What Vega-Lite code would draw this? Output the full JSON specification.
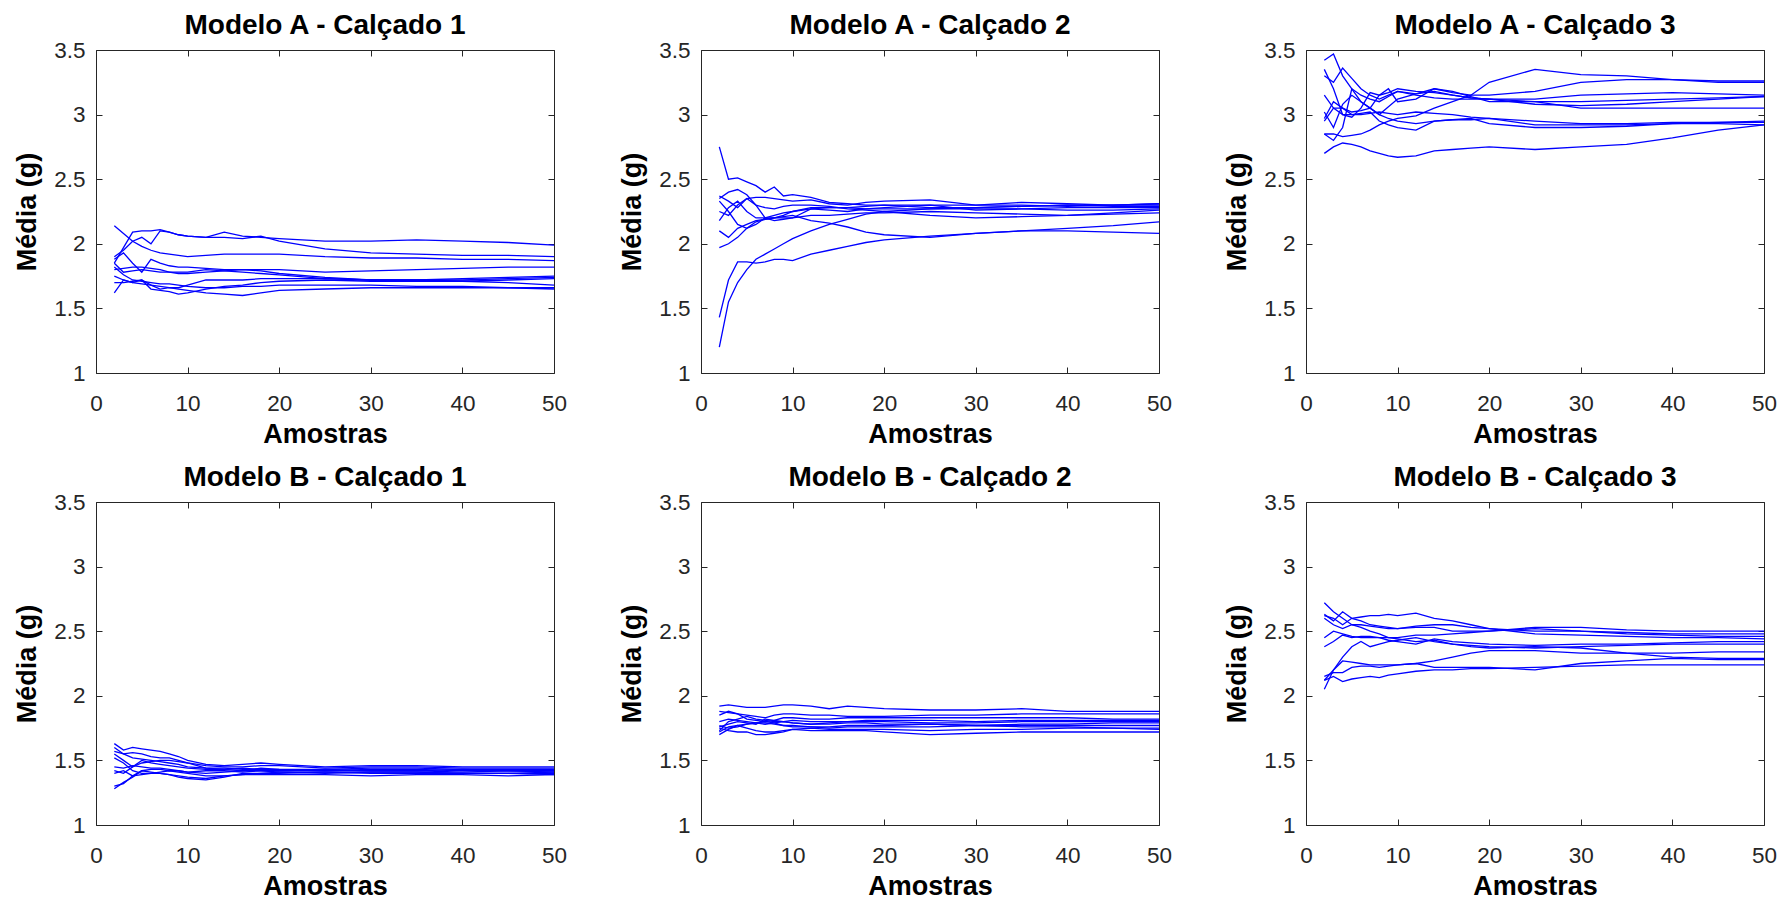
{
"$schema": "https://vega.github.io/schema/vega-lite/v6.json",
"background": "white",
"autosize": {"type": "none"},
"padding": {"left": 96, "top": 50, "right": 1686, "bottom": 854},
"data": {"values": [
{"p":"A1","x":2,"a":1.85,"b":1.9,"c":2.14,"d":1.88,"e":1.8,"f":1.85,"g":1.62,"h":1.7,"i":1.75,"j":1.82},
{"p":"A1","x":3,"a":1.97,"b":1.95,"c":2.08,"d":1.93,"e":1.81,"f":1.78,"g":1.72,"h":1.7,"i":1.72,"j":1.76},
{"p":"A1","x":4,"a":2.09,"b":2.02,"c":2.02,"d":1.85,"e":1.82,"f":1.79,"g":1.7,"h":1.71,"i":1.7,"j":1.72},
{"p":"A1","x":5,"a":2.1,"b":2.05,"c":1.98,"d":1.78,"e":1.82,"f":1.8,"g":1.72,"h":1.72,"i":1.69,"j":1.71},
{"p":"A1","x":6,"a":2.1,"b":2.0,"c":1.95,"d":1.88,"e":1.81,"f":1.79,"g":1.68,"h":1.65,"i":1.68,"j":1.7},
{"p":"A1","x":7,"a":2.11,"b":2.1,"c":1.93,"d":1.85,"e":1.8,"f":1.78,"g":1.65,"h":1.64,"i":1.67,"j":1.69},
{"p":"A1","x":8,"a":2.09,"b":2.09,"c":1.92,"d":1.83,"e":1.78,"f":1.78,"g":1.66,"h":1.63,"i":1.66,"j":1.69},
{"p":"A1","x":9,"a":2.07,"b":2.07,"c":1.91,"d":1.82,"e":1.78,"f":1.77,"g":1.66,"h":1.61,"i":1.65,"j":1.68},
{"p":"A1","x":10,"a":2.06,"b":2.06,"c":1.9,"d":1.82,"e":1.78,"f":1.77,"g":1.68,"h":1.62,"i":1.64,"j":1.67},
{"p":"A1","x":12,"a":2.05,"b":2.05,"c":1.91,"d":1.81,"e":1.8,"f":1.78,"g":1.72,"h":1.65,"i":1.62,"j":1.66},
{"p":"A1","x":14,"a":2.09,"b":2.05,"c":1.92,"d":1.8,"e":1.79,"f":1.79,"g":1.72,"h":1.67,"i":1.61,"j":1.66},
{"p":"A1","x":16,"a":2.06,"b":2.04,"c":1.92,"d":1.8,"e":1.78,"f":1.8,"g":1.72,"h":1.68,"i":1.6,"j":1.67},
{"p":"A1","x":18,"a":2.05,"b":2.06,"c":1.92,"d":1.8,"e":1.77,"f":1.79,"g":1.73,"h":1.7,"i":1.62,"j":1.67},
{"p":"A1","x":20,"a":2.04,"b":2.02,"c":1.92,"d":1.8,"e":1.76,"f":1.77,"g":1.73,"h":1.71,"i":1.64,"j":1.68},
{"p":"A1","x":25,"a":2.02,"b":1.96,"c":1.9,"d":1.78,"e":1.73,"f":1.74,"g":1.73,"h":1.72,"i":1.65,"j":1.68},
{"p":"A1","x":30,"a":2.02,"b":1.93,"c":1.89,"d":1.79,"e":1.72,"f":1.72,"g":1.72,"h":1.71,"i":1.66,"j":1.68},
{"p":"A1","x":35,"a":2.03,"b":1.92,"c":1.89,"d":1.8,"e":1.72,"f":1.72,"g":1.72,"h":1.71,"i":1.66,"j":1.67},
{"p":"A1","x":40,"a":2.02,"b":1.91,"c":1.88,"d":1.81,"e":1.73,"f":1.72,"g":1.71,"h":1.71,"i":1.66,"j":1.67},
{"p":"A1","x":45,"a":2.01,"b":1.91,"c":1.88,"d":1.82,"e":1.74,"f":1.73,"g":1.72,"h":1.7,"i":1.66,"j":1.66},
{"p":"A1","x":50,"a":1.99,"b":1.9,"c":1.87,"d":1.82,"e":1.75,"f":1.74,"g":1.73,"h":1.68,"i":1.66,"j":1.65},
{"p":"A2","x":2,"a":2.75,"b":2.37,"c":2.35,"d":2.33,"e":2.25,"f":2.1,"g":1.97,"h":1.43,"i":1.2,"j":2.18},
{"p":"A2","x":3,"a":2.5,"b":2.33,"c":2.4,"d":2.25,"e":2.22,"f":2.05,"g":2.0,"h":1.72,"i":1.55,"j":2.28},
{"p":"A2","x":4,"a":2.51,"b":2.28,"c":2.42,"d":2.15,"e":2.3,"f":2.12,"g":2.05,"h":1.86,"i":1.7,"j":2.33},
{"p":"A2","x":5,"a":2.48,"b":2.35,"c":2.38,"d":2.12,"e":2.35,"f":2.15,"g":2.12,"h":1.86,"i":1.8,"j":2.25},
{"p":"A2","x":6,"a":2.45,"b":2.36,"c":2.3,"d":2.15,"e":2.3,"f":2.18,"g":2.17,"h":1.85,"i":1.88,"j":2.2},
{"p":"A2","x":7,"a":2.4,"b":2.36,"c":2.2,"d":2.2,"e":2.28,"f":2.19,"g":2.19,"h":1.86,"i":1.92,"j":2.2},
{"p":"A2","x":8,"a":2.44,"b":2.35,"c":2.18,"d":2.22,"e":2.27,"f":2.2,"g":2.2,"h":1.88,"i":1.96,"j":2.2},
{"p":"A2","x":9,"a":2.37,"b":2.34,"c":2.19,"d":2.24,"e":2.29,"f":2.2,"g":2.21,"h":1.88,"i":2.0,"j":2.22},
{"p":"A2","x":10,"a":2.38,"b":2.33,"c":2.2,"d":2.25,"e":2.3,"f":2.2,"g":2.22,"h":1.87,"i":2.04,"j":2.25},
{"p":"A2","x":12,"a":2.36,"b":2.34,"c":2.27,"d":2.28,"e":2.3,"f":2.22,"g":2.18,"h":1.92,"i":2.1,"j":2.27},
{"p":"A2","x":14,"a":2.32,"b":2.31,"c":2.28,"d":2.28,"e":2.29,"f":2.22,"g":2.16,"h":1.95,"i":2.15,"j":2.26},
{"p":"A2","x":16,"a":2.31,"b":2.3,"c":2.28,"d":2.28,"e":2.27,"f":2.23,"g":2.13,"h":1.98,"i":2.19,"j":2.25},
{"p":"A2","x":18,"a":2.3,"b":2.32,"c":2.27,"d":2.29,"e":2.26,"f":2.24,"g":2.09,"h":2.01,"i":2.23,"j":2.27},
{"p":"A2","x":20,"a":2.3,"b":2.33,"c":2.27,"d":2.3,"e":2.25,"f":2.24,"g":2.07,"h":2.03,"i":2.25,"j":2.28},
{"p":"A2","x":25,"a":2.3,"b":2.34,"c":2.27,"d":2.28,"e":2.22,"f":2.25,"g":2.05,"h":2.06,"i":2.27,"j":2.3},
{"p":"A2","x":30,"a":2.3,"b":2.3,"c":2.27,"d":2.28,"e":2.2,"f":2.24,"g":2.08,"h":2.08,"i":2.28,"j":2.26},
{"p":"A2","x":35,"a":2.3,"b":2.32,"c":2.27,"d":2.29,"e":2.21,"f":2.23,"g":2.1,"h":2.1,"i":2.29,"j":2.27},
{"p":"A2","x":40,"a":2.29,"b":2.31,"c":2.26,"d":2.3,"e":2.22,"f":2.22,"g":2.1,"h":2.12,"i":2.3,"j":2.28},
{"p":"A2","x":45,"a":2.3,"b":2.3,"c":2.26,"d":2.29,"e":2.24,"f":2.23,"g":2.09,"h":2.14,"i":2.3,"j":2.28},
{"p":"A2","x":50,"a":2.31,"b":2.3,"c":2.27,"d":2.29,"e":2.26,"f":2.24,"g":2.08,"h":2.17,"i":2.31,"j":2.28},
{"p":"A3","x":2,"a":3.42,"b":3.3,"c":3.35,"d":3.15,"e":2.97,"f":2.85,"g":2.85,"h":2.7,"i":2.95,"j":3.02},
{"p":"A3","x":3,"a":3.47,"b":3.25,"c":3.2,"d":3.05,"e":3.1,"f":2.8,"g":2.85,"h":2.75,"i":3.05,"j":2.9},
{"p":"A3","x":4,"a":3.3,"b":3.36,"c":3.0,"d":3.0,"e":3.05,"f":2.9,"g":2.83,"h":2.78,"i":3.05,"j":3.08},
{"p":"A3","x":5,"a":3.2,"b":3.28,"c":2.98,"d":3.0,"e":3.0,"f":3.2,"g":2.84,"h":2.77,"i":3.02,"j":3.15},
{"p":"A3","x":6,"a":3.1,"b":3.2,"c":3.05,"d":3.0,"e":3.01,"f":3.15,"g":2.85,"h":2.75,"i":3.03,"j":3.1},
{"p":"A3","x":7,"a":3.05,"b":3.15,"c":3.17,"d":3.01,"e":3.02,"f":3.12,"g":2.88,"h":2.72,"i":3.05,"j":3.05},
{"p":"A3","x":8,"a":3.0,"b":3.12,"c":3.15,"d":3.02,"e":2.95,"f":3.1,"g":2.92,"h":2.7,"i":3.15,"j":3.0},
{"p":"A3","x":9,"a":2.97,"b":3.15,"c":3.17,"d":3.01,"e":2.92,"f":3.14,"g":2.95,"h":2.68,"i":3.2,"j":3.06},
{"p":"A3","x":10,"a":2.95,"b":3.18,"c":3.2,"d":3.0,"e":2.9,"f":3.18,"g":2.97,"h":2.67,"i":3.1,"j":3.12},
{"p":"A3","x":12,"a":2.93,"b":3.15,"c":3.18,"d":3.02,"e":2.88,"f":3.16,"g":2.99,"h":2.68,"i":3.12,"j":3.16},
{"p":"A3","x":14,"a":2.95,"b":3.13,"c":3.17,"d":3.01,"e":2.95,"f":3.2,"g":3.05,"h":2.72,"i":3.2,"j":3.18},
{"p":"A3","x":16,"a":2.96,"b":3.12,"c":3.15,"d":3.0,"e":2.96,"f":3.17,"g":3.1,"h":2.73,"i":3.18,"j":3.15},
{"p":"A3","x":18,"a":2.96,"b":3.12,"c":3.13,"d":2.98,"e":2.97,"f":3.15,"g":3.15,"h":2.74,"i":3.14,"j":3.13},
{"p":"A3","x":20,"a":2.97,"b":3.12,"c":3.12,"d":2.97,"e":2.93,"f":3.15,"g":3.25,"h":2.75,"i":3.1,"j":3.12},
{"p":"A3","x":25,"a":2.95,"b":3.08,"c":3.12,"d":2.92,"e":2.9,"f":3.18,"g":3.35,"h":2.73,"i":3.1,"j":3.1},
{"p":"A3","x":30,"a":2.93,"b":3.07,"c":3.15,"d":2.92,"e":2.9,"f":3.25,"g":3.31,"h":2.75,"i":3.05,"j":3.1},
{"p":"A3","x":35,"a":2.93,"b":3.08,"c":3.16,"d":2.92,"e":2.91,"f":3.27,"g":3.3,"h":2.77,"i":3.05,"j":3.11},
{"p":"A3","x":40,"a":2.94,"b":3.1,"c":3.17,"d":2.93,"e":2.93,"f":3.27,"g":3.27,"h":2.82,"i":3.05,"j":3.12},
{"p":"A3","x":45,"a":2.94,"b":3.12,"c":3.16,"d":2.93,"e":2.94,"f":3.26,"g":3.25,"h":2.88,"i":3.05,"j":3.13},
{"p":"A3","x":50,"a":2.95,"b":3.14,"c":3.15,"d":2.92,"e":2.94,"f":3.26,"g":3.25,"h":2.92,"i":3.05,"j":3.14},
{"p":"B1","x":2,"a":1.63,"b":1.57,"c":1.55,"d":1.42,"e":1.4,"f":1.3,"g":1.28,"h":1.52,"i":1.6,"j":1.45},
{"p":"B1","x":3,"a":1.58,"b":1.55,"c":1.5,"d":1.4,"e":1.42,"f":1.32,"g":1.33,"h":1.48,"i":1.55,"j":1.44},
{"p":"B1","x":4,"a":1.6,"b":1.56,"c":1.45,"d":1.45,"e":1.38,"f":1.38,"g":1.37,"h":1.42,"i":1.52,"j":1.46},
{"p":"B1","x":5,"a":1.59,"b":1.55,"c":1.48,"d":1.5,"e":1.42,"f":1.39,"g":1.42,"h":1.4,"i":1.51,"j":1.45},
{"p":"B1","x":6,"a":1.58,"b":1.53,"c":1.49,"d":1.48,"e":1.43,"f":1.4,"g":1.41,"h":1.4,"i":1.5,"j":1.44},
{"p":"B1","x":7,"a":1.57,"b":1.52,"c":1.5,"d":1.47,"e":1.43,"f":1.41,"g":1.4,"h":1.4,"i":1.49,"j":1.44},
{"p":"B1","x":8,"a":1.55,"b":1.52,"c":1.5,"d":1.46,"e":1.42,"f":1.42,"g":1.39,"h":1.39,"i":1.48,"j":1.43},
{"p":"B1","x":9,"a":1.53,"b":1.5,"c":1.49,"d":1.45,"e":1.42,"f":1.41,"g":1.38,"h":1.37,"i":1.47,"j":1.42},
{"p":"B1","x":10,"a":1.5,"b":1.48,"c":1.48,"d":1.44,"e":1.41,"f":1.4,"g":1.37,"h":1.36,"i":1.45,"j":1.41},
{"p":"B1","x":12,"a":1.47,"b":1.46,"c":1.44,"d":1.43,"e":1.4,"f":1.38,"g":1.36,"h":1.35,"i":1.44,"j":1.42},
{"p":"B1","x":14,"a":1.46,"b":1.45,"c":1.43,"d":1.43,"e":1.41,"f":1.38,"g":1.38,"h":1.37,"i":1.44,"j":1.42},
{"p":"B1","x":16,"a":1.47,"b":1.45,"c":1.42,"d":1.44,"e":1.42,"f":1.39,"g":1.39,"h":1.4,"i":1.43,"j":1.41},
{"p":"B1","x":18,"a":1.48,"b":1.46,"c":1.44,"d":1.43,"e":1.42,"f":1.4,"g":1.39,"h":1.4,"i":1.43,"j":1.42},
{"p":"B1","x":20,"a":1.47,"b":1.46,"c":1.43,"d":1.42,"e":1.41,"f":1.41,"g":1.39,"h":1.4,"i":1.43,"j":1.42},
{"p":"B1","x":25,"a":1.45,"b":1.44,"c":1.42,"d":1.43,"e":1.4,"f":1.41,"g":1.39,"h":1.41,"i":1.43,"j":1.42},
{"p":"B1","x":30,"a":1.46,"b":1.45,"c":1.43,"d":1.42,"e":1.41,"f":1.4,"g":1.38,"h":1.41,"i":1.44,"j":1.42},
{"p":"B1","x":35,"a":1.46,"b":1.45,"c":1.43,"d":1.42,"e":1.41,"f":1.4,"g":1.39,"h":1.41,"i":1.44,"j":1.42},
{"p":"B1","x":40,"a":1.45,"b":1.44,"c":1.42,"d":1.41,"e":1.4,"f":1.4,"g":1.39,"h":1.4,"i":1.43,"j":1.43},
{"p":"B1","x":45,"a":1.45,"b":1.44,"c":1.42,"d":1.42,"e":1.4,"f":1.4,"g":1.38,"h":1.4,"i":1.43,"j":1.42},
{"p":"B1","x":50,"a":1.45,"b":1.44,"c":1.42,"d":1.42,"e":1.41,"f":1.4,"g":1.39,"h":1.39,"i":1.43,"j":1.41},
{"p":"B2","x":2,"a":1.92,"b":1.88,"c":1.85,"d":1.8,"e":1.77,"f":1.72,"g":1.7,"h":1.75,"i":1.76,"j":1.73},
{"p":"B2","x":3,"a":1.93,"b":1.87,"c":1.88,"d":1.82,"e":1.75,"f":1.76,"g":1.74,"h":1.73,"i":1.78,"j":1.8},
{"p":"B2","x":4,"a":1.92,"b":1.86,"c":1.86,"d":1.81,"e":1.76,"f":1.77,"g":1.77,"h":1.72,"i":1.8,"j":1.82},
{"p":"B2","x":5,"a":1.91,"b":1.85,"c":1.82,"d":1.8,"e":1.78,"f":1.78,"g":1.75,"h":1.72,"i":1.79,"j":1.84},
{"p":"B2","x":6,"a":1.91,"b":1.84,"c":1.81,"d":1.79,"e":1.79,"f":1.79,"g":1.73,"h":1.7,"i":1.78,"j":1.82},
{"p":"B2","x":7,"a":1.91,"b":1.83,"c":1.8,"d":1.78,"e":1.8,"f":1.79,"g":1.72,"h":1.7,"i":1.82,"j":1.81},
{"p":"B2","x":8,"a":1.92,"b":1.85,"c":1.81,"d":1.79,"e":1.79,"f":1.78,"g":1.72,"h":1.71,"i":1.81,"j":1.8},
{"p":"B2","x":9,"a":1.93,"b":1.86,"c":1.83,"d":1.8,"e":1.77,"f":1.77,"g":1.73,"h":1.72,"i":1.8,"j":1.8},
{"p":"B2","x":10,"a":1.93,"b":1.86,"c":1.83,"d":1.79,"e":1.77,"f":1.76,"g":1.74,"h":1.74,"i":1.79,"j":1.81},
{"p":"B2","x":12,"a":1.92,"b":1.85,"c":1.82,"d":1.78,"e":1.76,"f":1.76,"g":1.75,"h":1.73,"i":1.78,"j":1.8},
{"p":"B2","x":14,"a":1.9,"b":1.85,"c":1.82,"d":1.79,"e":1.76,"f":1.75,"g":1.74,"h":1.73,"i":1.78,"j":1.8},
{"p":"B2","x":16,"a":1.92,"b":1.84,"c":1.83,"d":1.8,"e":1.77,"f":1.76,"g":1.74,"h":1.73,"i":1.79,"j":1.8},
{"p":"B2","x":18,"a":1.91,"b":1.84,"c":1.83,"d":1.8,"e":1.77,"f":1.76,"g":1.74,"h":1.73,"i":1.79,"j":1.81},
{"p":"B2","x":20,"a":1.9,"b":1.84,"c":1.83,"d":1.8,"e":1.77,"f":1.76,"g":1.74,"h":1.72,"i":1.78,"j":1.81},
{"p":"B2","x":25,"a":1.89,"b":1.85,"c":1.83,"d":1.79,"e":1.78,"f":1.76,"g":1.73,"h":1.7,"i":1.78,"j":1.81},
{"p":"B2","x":30,"a":1.89,"b":1.85,"c":1.83,"d":1.79,"e":1.77,"f":1.77,"g":1.74,"h":1.71,"i":1.77,"j":1.8},
{"p":"B2","x":35,"a":1.9,"b":1.86,"c":1.83,"d":1.8,"e":1.78,"f":1.77,"g":1.74,"h":1.72,"i":1.76,"j":1.81},
{"p":"B2","x":40,"a":1.88,"b":1.86,"c":1.83,"d":1.8,"e":1.78,"f":1.77,"g":1.75,"h":1.72,"i":1.76,"j":1.81},
{"p":"B2","x":45,"a":1.88,"b":1.86,"c":1.82,"d":1.8,"e":1.79,"f":1.77,"g":1.75,"h":1.72,"i":1.75,"j":1.81},
{"p":"B2","x":50,"a":1.88,"b":1.86,"c":1.82,"d":1.8,"e":1.79,"f":1.77,"g":1.75,"h":1.72,"i":1.74,"j":1.81},
{"p":"B3","x":2,"a":2.72,"b":2.63,"c":2.62,"d":2.6,"e":2.45,"f":2.38,"g":2.05,"h":2.12,"i":2.15,"j":2.12},
{"p":"B3","x":3,"a":2.65,"b":2.58,"c":2.6,"d":2.55,"e":2.5,"f":2.42,"g":2.2,"h":2.2,"i":2.18,"j":2.15},
{"p":"B3","x":4,"a":2.6,"b":2.65,"c":2.55,"d":2.52,"e":2.48,"f":2.47,"g":2.3,"h":2.27,"i":2.18,"j":2.11},
{"p":"B3","x":5,"a":2.55,"b":2.6,"c":2.6,"d":2.55,"e":2.46,"f":2.45,"g":2.38,"h":2.26,"i":2.22,"j":2.13},
{"p":"B3","x":6,"a":2.53,"b":2.58,"c":2.61,"d":2.55,"e":2.45,"f":2.46,"g":2.42,"h":2.25,"i":2.23,"j":2.14},
{"p":"B3","x":7,"a":2.5,"b":2.55,"c":2.62,"d":2.54,"e":2.45,"f":2.46,"g":2.38,"h":2.24,"i":2.23,"j":2.15},
{"p":"B3","x":8,"a":2.48,"b":2.54,"c":2.62,"d":2.53,"e":2.45,"f":2.45,"g":2.4,"h":2.24,"i":2.22,"j":2.14},
{"p":"B3","x":9,"a":2.45,"b":2.53,"c":2.63,"d":2.52,"e":2.45,"f":2.43,"g":2.42,"h":2.24,"i":2.23,"j":2.16},
{"p":"B3","x":10,"a":2.44,"b":2.52,"c":2.62,"d":2.52,"e":2.45,"f":2.42,"g":2.43,"h":2.24,"i":2.24,"j":2.17},
{"p":"B3","x":12,"a":2.42,"b":2.54,"c":2.64,"d":2.53,"e":2.47,"f":2.4,"g":2.45,"h":2.25,"i":2.25,"j":2.19},
{"p":"B3","x":14,"a":2.43,"b":2.55,"c":2.6,"d":2.53,"e":2.47,"f":2.44,"g":2.42,"h":2.27,"i":2.22,"j":2.2},
{"p":"B3","x":16,"a":2.4,"b":2.55,"c":2.58,"d":2.5,"e":2.48,"f":2.42,"g":2.4,"h":2.3,"i":2.22,"j":2.2},
{"p":"B3","x":18,"a":2.39,"b":2.53,"c":2.55,"d":2.5,"e":2.49,"f":2.41,"g":2.38,"h":2.33,"i":2.22,"j":2.21},
{"p":"B3","x":20,"a":2.38,"b":2.52,"c":2.52,"d":2.5,"e":2.5,"f":2.4,"g":2.37,"h":2.35,"i":2.22,"j":2.21},
{"p":"B3","x":25,"a":2.37,"b":2.5,"c":2.48,"d":2.52,"e":2.53,"f":2.39,"g":2.38,"h":2.35,"i":2.2,"j":2.22},
{"p":"B3","x":30,"a":2.38,"b":2.5,"c":2.47,"d":2.5,"e":2.53,"f":2.4,"g":2.37,"h":2.33,"i":2.25,"j":2.23},
{"p":"B3","x":35,"a":2.39,"b":2.48,"c":2.46,"d":2.49,"e":2.51,"f":2.4,"g":2.33,"h":2.33,"i":2.27,"j":2.24},
{"p":"B3","x":40,"a":2.4,"b":2.47,"c":2.45,"d":2.48,"e":2.5,"f":2.41,"g":2.3,"h":2.33,"i":2.29,"j":2.24},
{"p":"B3","x":45,"a":2.4,"b":2.46,"c":2.45,"d":2.48,"e":2.5,"f":2.42,"g":2.29,"h":2.34,"i":2.28,"j":2.24},
{"p":"B3","x":50,"a":2.4,"b":2.46,"c":2.44,"d":2.48,"e":2.5,"f":2.42,"g":2.29,"h":2.34,"i":2.28,"j":2.24}
]},
"transform": [{"fold": ["a","b","c","d","e","f","g","h","i","j"], "as": ["s","y"]}],
"columns": 3,
"spacing": {"row": 129, "column": 147},
"bounds": "flush",
"concat": [
{"title": "Modelo A - Calçado 1", "width": 458, "height": 323,
 "transform": [{"filter": "datum.p === 'A1'"}],
 "layer": [
  {"mark": {"type": "line", "color": "#0000ff", "strokeWidth": 1.3},
   "encoding": {"x": {"field": "x", "type": "quantitative", "scale": {"domain": [0, 50], "nice": false}, "axis": {"values": [0,10,20,30,40,50], "title": "Amostras"}},
    "y": {"field": "y", "type": "quantitative", "scale": {"domain": [1, 3.5], "nice": false}, "axis": {"values": [1,1.5,2,2.5,3,3.5], "format": "~g", "title": "Média (g)"}},
    "detail": {"field": "s"}}},
  {"mark": {"type": "line", "opacity": 0},
   "encoding": {"x": {"field": "x", "type": "quantitative", "scale": {"domain": [0, 50], "nice": false}, "axis": {"orient": "top", "values": [0,10,20,30,40,50], "labels": false, "title": null}},
    "y": {"field": "y", "type": "quantitative", "scale": {"domain": [1, 3.5], "nice": false}, "axis": {"orient": "right", "values": [1,1.5,2,2.5,3,3.5], "labels": false, "title": null}},
    "detail": {"field": "s"}}}
 ],
 "resolve": {"axis": {"x": "independent", "y": "independent"}}},
{"title": "Modelo A - Calçado 2", "width": 458, "height": 323,
 "transform": [{"filter": "datum.p === 'A2'"}],
 "layer": [
  {"mark": {"type": "line", "color": "#0000ff", "strokeWidth": 1.3},
   "encoding": {"x": {"field": "x", "type": "quantitative", "scale": {"domain": [0, 50], "nice": false}, "axis": {"values": [0,10,20,30,40,50], "title": "Amostras"}},
    "y": {"field": "y", "type": "quantitative", "scale": {"domain": [1, 3.5], "nice": false}, "axis": {"values": [1,1.5,2,2.5,3,3.5], "format": "~g", "title": "Média (g)"}},
    "detail": {"field": "s"}}},
  {"mark": {"type": "line", "opacity": 0},
   "encoding": {"x": {"field": "x", "type": "quantitative", "scale": {"domain": [0, 50], "nice": false}, "axis": {"orient": "top", "values": [0,10,20,30,40,50], "labels": false, "title": null}},
    "y": {"field": "y", "type": "quantitative", "scale": {"domain": [1, 3.5], "nice": false}, "axis": {"orient": "right", "values": [1,1.5,2,2.5,3,3.5], "labels": false, "title": null}},
    "detail": {"field": "s"}}}
 ],
 "resolve": {"axis": {"x": "independent", "y": "independent"}}},
{"title": "Modelo A - Calçado 3", "width": 458, "height": 323,
 "transform": [{"filter": "datum.p === 'A3'"}],
 "layer": [
  {"mark": {"type": "line", "color": "#0000ff", "strokeWidth": 1.3},
   "encoding": {"x": {"field": "x", "type": "quantitative", "scale": {"domain": [0, 50], "nice": false}, "axis": {"values": [0,10,20,30,40,50], "title": "Amostras"}},
    "y": {"field": "y", "type": "quantitative", "scale": {"domain": [1, 3.5], "nice": false}, "axis": {"values": [1,1.5,2,2.5,3,3.5], "format": "~g", "title": "Média (g)"}},
    "detail": {"field": "s"}}},
  {"mark": {"type": "line", "opacity": 0},
   "encoding": {"x": {"field": "x", "type": "quantitative", "scale": {"domain": [0, 50], "nice": false}, "axis": {"orient": "top", "values": [0,10,20,30,40,50], "labels": false, "title": null}},
    "y": {"field": "y", "type": "quantitative", "scale": {"domain": [1, 3.5], "nice": false}, "axis": {"orient": "right", "values": [1,1.5,2,2.5,3,3.5], "labels": false, "title": null}},
    "detail": {"field": "s"}}}
 ],
 "resolve": {"axis": {"x": "independent", "y": "independent"}}},
{"title": "Modelo B - Calçado 1", "width": 458, "height": 323,
 "transform": [{"filter": "datum.p === 'B1'"}],
 "layer": [
  {"mark": {"type": "line", "color": "#0000ff", "strokeWidth": 1.3},
   "encoding": {"x": {"field": "x", "type": "quantitative", "scale": {"domain": [0, 50], "nice": false}, "axis": {"values": [0,10,20,30,40,50], "title": "Amostras"}},
    "y": {"field": "y", "type": "quantitative", "scale": {"domain": [1, 3.5], "nice": false}, "axis": {"values": [1,1.5,2,2.5,3,3.5], "format": "~g", "title": "Média (g)"}},
    "detail": {"field": "s"}}},
  {"mark": {"type": "line", "opacity": 0},
   "encoding": {"x": {"field": "x", "type": "quantitative", "scale": {"domain": [0, 50], "nice": false}, "axis": {"orient": "top", "values": [0,10,20,30,40,50], "labels": false, "title": null}},
    "y": {"field": "y", "type": "quantitative", "scale": {"domain": [1, 3.5], "nice": false}, "axis": {"orient": "right", "values": [1,1.5,2,2.5,3,3.5], "labels": false, "title": null}},
    "detail": {"field": "s"}}}
 ],
 "resolve": {"axis": {"x": "independent", "y": "independent"}}},
{"title": "Modelo B - Calçado 2", "width": 458, "height": 323,
 "transform": [{"filter": "datum.p === 'B2'"}],
 "layer": [
  {"mark": {"type": "line", "color": "#0000ff", "strokeWidth": 1.3},
   "encoding": {"x": {"field": "x", "type": "quantitative", "scale": {"domain": [0, 50], "nice": false}, "axis": {"values": [0,10,20,30,40,50], "title": "Amostras"}},
    "y": {"field": "y", "type": "quantitative", "scale": {"domain": [1, 3.5], "nice": false}, "axis": {"values": [1,1.5,2,2.5,3,3.5], "format": "~g", "title": "Média (g)"}},
    "detail": {"field": "s"}}},
  {"mark": {"type": "line", "opacity": 0},
   "encoding": {"x": {"field": "x", "type": "quantitative", "scale": {"domain": [0, 50], "nice": false}, "axis": {"orient": "top", "values": [0,10,20,30,40,50], "labels": false, "title": null}},
    "y": {"field": "y", "type": "quantitative", "scale": {"domain": [1, 3.5], "nice": false}, "axis": {"orient": "right", "values": [1,1.5,2,2.5,3,3.5], "labels": false, "title": null}},
    "detail": {"field": "s"}}}
 ],
 "resolve": {"axis": {"x": "independent", "y": "independent"}}},
{"title": "Modelo B - Calçado 3", "width": 458, "height": 323,
 "transform": [{"filter": "datum.p === 'B3'"}],
 "layer": [
  {"mark": {"type": "line", "color": "#0000ff", "strokeWidth": 1.3},
   "encoding": {"x": {"field": "x", "type": "quantitative", "scale": {"domain": [0, 50], "nice": false}, "axis": {"values": [0,10,20,30,40,50], "title": "Amostras"}},
    "y": {"field": "y", "type": "quantitative", "scale": {"domain": [1, 3.5], "nice": false}, "axis": {"values": [1,1.5,2,2.5,3,3.5], "format": "~g", "title": "Média (g)"}},
    "detail": {"field": "s"}}},
  {"mark": {"type": "line", "opacity": 0},
   "encoding": {"x": {"field": "x", "type": "quantitative", "scale": {"domain": [0, 50], "nice": false}, "axis": {"orient": "top", "values": [0,10,20,30,40,50], "labels": false, "title": null}},
    "y": {"field": "y", "type": "quantitative", "scale": {"domain": [1, 3.5], "nice": false}, "axis": {"orient": "right", "values": [1,1.5,2,2.5,3,3.5], "labels": false, "title": null}},
    "detail": {"field": "s"}}}
 ],
 "resolve": {"axis": {"x": "independent", "y": "independent"}}}
],
"config": {
 "view": {"stroke": "#262626", "strokeWidth": 1},
 "font": "Liberation Sans",
 "title": {"font": "Liberation Sans", "fontSize": 28, "fontWeight": "bold", "color": "#000000", "offset": -1, "baseline": "alphabetic", "anchor": "middle"},
 "axis": {"grid": false, "domain": false, "labelFont": "Liberation Sans", "labelFontSize": 22.5, "labelColor": "#262626", "labelFlush": false, "labelOverlap": false,
  "titleFont": "Liberation Sans", "titleFontSize": 27, "titleFontWeight": "bold", "titleColor": "#000000",
  "tickColor": "#262626", "tickSize": -6, "tickWidth": 1},
 "axisX": {"labelPadding": 25, "titlePadding": 7},
 "axisY": {"labelPadding": 17, "titlePadding": 12}
}
}
